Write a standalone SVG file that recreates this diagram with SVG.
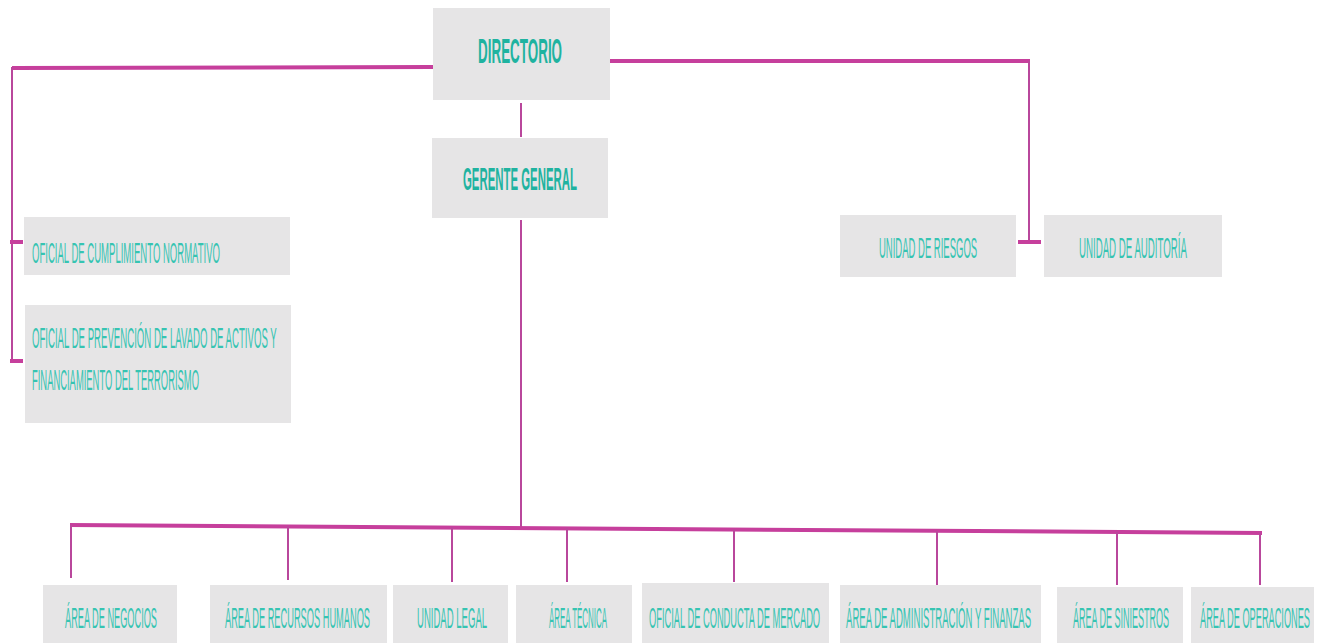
<svg xmlns="http://www.w3.org/2000/svg" width="1329" height="643" viewBox="0 0 1329 643">
<style>
.box{fill:#e6e5e6}
.t{font-family:"Liberation Sans",Arial,sans-serif;fill:#36c4b2;font-size:29px}
.tb{font-family:"Liberation Sans",Arial,sans-serif;fill:#1fb3a0;font-weight:bold}
.thick{stroke:#c63f9c;stroke-width:4;fill:none}
.thin{stroke:#b9479c;stroke-width:2;fill:none}
</style>
<rect width="1329" height="643" fill="#ffffff"/>
<g id="connectors">
<polyline class="thick" points="433,67 12,68"/>
<line class="thin" x1="12" y1="67" x2="12" y2="363"/>
<line class="thick" x1="10" y1="242" x2="23" y2="242"/>
<line class="thick" x1="10" y1="361" x2="23" y2="361"/>
<line class="thick" x1="610" y1="61" x2="1030" y2="61"/>
<line class="thin" x1="1029" y1="61" x2="1029" y2="242"/>
<line class="thick" x1="1018" y1="242" x2="1041" y2="242"/>
<line class="thin" x1="521" y1="103" x2="521" y2="137"/>
<line class="thin" x1="521" y1="220" x2="521" y2="528"/>
<line class="thick" x1="70" y1="525" x2="1262" y2="533"/>
<line class="thin" x1="71" y1="525" x2="71" y2="578"/>
<line class="thin" x1="288" y1="526" x2="288" y2="580"/>
<line class="thin" x1="452" y1="527" x2="452" y2="582"/>
<line class="thin" x1="567" y1="528" x2="567" y2="582"/>
<line class="thin" x1="734" y1="529" x2="734" y2="582"/>
<line class="thin" x1="937" y1="531" x2="937" y2="585"/>
<line class="thin" x1="1117" y1="532" x2="1117" y2="585"/>
<line class="thin" x1="1260" y1="533" x2="1260" y2="585"/>
</g>
<g id="directorio">
<rect class="box" x="433" y="8" width="177" height="92"/>
<text class="tb" font-size="36" transform="translate(478,63) scale(0.372,1)" textLength="226" lengthAdjust="spacingAndGlyphs">DIRECTORIO</text>
</g>
<g id="gerente">
<rect class="box" x="432" y="138" width="176" height="80"/>
<text class="tb" font-size="32" transform="translate(463,190) scale(0.356,1)" textLength="320" lengthAdjust="spacingAndGlyphs">GERENTE GENERAL</text>
</g>
<g id="cumplimiento">
<rect class="box" x="24" y="217" width="266" height="58"/>
<text class="t" transform="translate(32,263) scale(0.327,1)" textLength="575" lengthAdjust="spacingAndGlyphs">OFICIAL DE CUMPLIMIENTO NORMATIVO</text>
</g>
<g id="prevencion">
<rect class="box" x="25" y="305" width="266" height="118"/>
<text class="t" transform="translate(32,348) scale(0.328,1)" textLength="746" lengthAdjust="spacingAndGlyphs">OFICIAL DE PREVENCIÓN DE LAVADO DE ACTIVOS Y</text>
<text class="t" transform="translate(32,390) scale(0.323,1)" textLength="517" lengthAdjust="spacingAndGlyphs">FINANCIAMIENTO DEL TERRORISMO</text>
</g>
<g id="riesgos">
<rect class="box" x="840" y="215" width="176" height="62"/>
<text class="t" transform="translate(879,258) scale(0.327,1)" textLength="300" lengthAdjust="spacingAndGlyphs">UNIDAD DE RIESGOS</text>
</g>
<g id="auditoria">
<rect class="box" x="1044" y="215" width="178" height="62"/>
<text class="t" transform="translate(1079,258) scale(0.332,1)" textLength="325" lengthAdjust="spacingAndGlyphs">UNIDAD DE AUDITORÍA</text>
</g>
<g id="negocios">
<rect class="box" x="43" y="585" width="134" height="58"/>
<text class="t" transform="translate(65,628) scale(0.315,1)" textLength="292" lengthAdjust="spacingAndGlyphs">ÁREA DE NEGOCIOS</text>
</g>
<g id="rrhh">
<rect class="box" x="210" y="585" width="177" height="58"/>
<text class="t" transform="translate(225,628) scale(0.318,1)" textLength="456" lengthAdjust="spacingAndGlyphs">ÁREA DE RECURSOS HUMANOS</text>
</g>
<g id="legal">
<rect class="box" x="393" y="585" width="115" height="58"/>
<text class="t" transform="translate(417,628) scale(0.329,1)" textLength="213" lengthAdjust="spacingAndGlyphs">UNIDAD LEGAL</text>
</g>
<g id="tecnica">
<rect class="box" x="516" y="585" width="116" height="58"/>
<text class="t" transform="translate(549,628) scale(0.271,1)" textLength="214" lengthAdjust="spacingAndGlyphs">ÁREA TÉCNICA</text>
</g>
<g id="conducta">
<rect class="box" x="642" y="583" width="187" height="60"/>
<text class="t" transform="translate(649,628) scale(0.318,1)" textLength="538" lengthAdjust="spacingAndGlyphs">OFICIAL DE CONDUCTA DE MERCADO</text>
</g>
<g id="administracion">
<rect class="box" x="840" y="585" width="201" height="58"/>
<text class="t" transform="translate(846,628) scale(0.327,1)" textLength="566" lengthAdjust="spacingAndGlyphs">ÁREA DE ADMINISTRACIÓN Y FINANZAS</text>
</g>
<g id="siniestros">
<rect class="box" x="1057" y="587" width="126" height="56"/>
<text class="t" transform="translate(1073,628) scale(0.309,1)" textLength="311" lengthAdjust="spacingAndGlyphs">ÁREA DE SINIESTROS</text>
</g>
<g id="operaciones">
<rect class="box" x="1191" y="587" width="123" height="56"/>
<text class="t" transform="translate(1200,628) scale(0.316,1)" textLength="348" lengthAdjust="spacingAndGlyphs">ÁREA DE OPERACIONES</text>
</g>
</svg>
